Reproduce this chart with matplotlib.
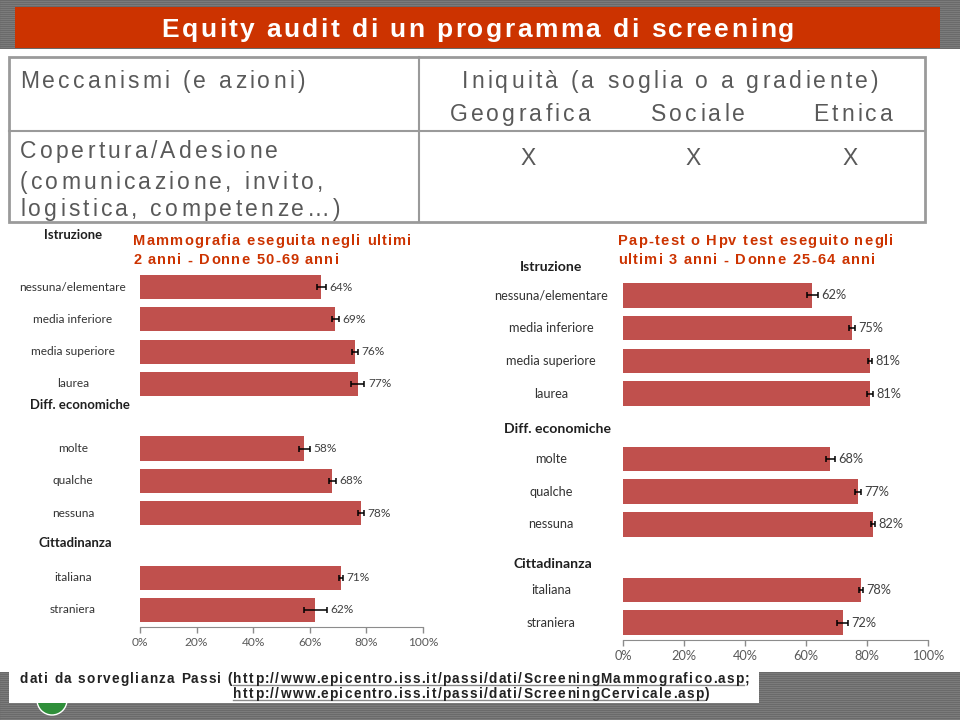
import matplotlib.pyplot as plt
import matplotlib.transforms as mtransforms
from matplotlib.patches import Rectangle, Ellipse
from matplotlib.lines import Line2D
from matplotlib.font_manager import FontProperties

# dati
categories = ['nessuna/elementare', 'media inferiore', 'media superiore', 'laurea',
              'molte', 'qualche', 'nessuna', 'italiana', 'straniera']
groups = ['Istruzione', 'Diff. economiche', 'Cittadinanza']

mammo_values = [64, 69, 76, 77, 58, 68, 78, 71, 62]
mammo_err = [1.6, 1.2, 1.0, 2.3, 1.9, 1.1, 1.0, 0.8, 4.2]
pap_values = [62, 75, 81, 81, 68, 77, 82, 78, 72]
pap_err = [1.8, 1.0, 0.7, 0.9, 1.4, 1.0, 0.7, 0.6, 1.8]

xticks = [0, 20, 40, 60, 80, 100]
xtick_labels = ['0%', '20%', '40%', '60%', '80%', '100%']

# slot of each category (gaps between groups)
slots = [0, 1, 2, 3, 5, 6, 7, 9, 10]

W, H = 960, 722
BAR = '#c0504d'
RED = '#cc3300'
GREY_TXT = '#595959'

fig = plt.figure(figsize=(W / 100, H / 100), dpi=100)
renderer = fig.canvas.get_renderer()


def fx(x):
    return x / W


def fy(y):
    return 1 - y / H


def prect(x0, y0, x1, y1, **kw):
    r = Rectangle((fx(x0), fy(y1)), fx(x1) - fx(x0), fy(y0) - fy(y1),
                  transform=fig.transFigure, **kw)
    fig.patches.append(r)
    return r


def hline(x0, x1, y, **kw):
    fig.add_artist(Line2D([fx(x0), fx(x1)], [fy(y)] * 2, transform=fig.transFigure, **kw))


def tracked(x, y, s, track, size, weight='normal', family='Liberation Sans',
            color='black', ha='left', zorder=3):
    """text with letter spacing; y is the vertical centre (cap height) in pixels"""
    prop = FontProperties(family=family, size=size, weight=weight)

    def width(t):
        return (renderer.get_text_width_height_descent(t + 'x', prop, ismath=False)[0]
                - renderer.get_text_width_height_descent('x', prop, ismath=False)[0])

    total = width(s) + track * (len(s) - 1)
    if ha == 'center':
        x -= total / 2
    base = y + 0.358 * size * 100 / 72
    for i, ch in enumerate(s):
        if ch == ' ':
            continue
        fig.text(fx(x + width(s[:i]) + i * track), fy(base), ch, fontproperties=prop,
                 color=color, ha='left', va='baseline', zorder=zorder)
    return x, x + total, base


def stripes(y0, y1):
    prect(0, y0, W, y1, facecolor='#6a6a6a', edgecolor='none', zorder=0)
    y = y0 + 1
    while y < y1:
        hline(0, W, y, color='#8a8a8a', lw=0.4, zorder=0.5)
        y += 2


# banner in alto
stripes(0, 49)
prect(15, 7, 940, 48, facecolor=RED, edgecolor='none', zorder=1)
tracked(478, 28, 'Equity audit di un programma di screening', 2.4, 19, weight='bold',
        color='white', ha='center')

# tabella
prect(9, 57, 925, 222, facecolor='white', edgecolor='#9a9a9a', lw=2, zorder=1)
fig.add_artist(Line2D([fx(419)] * 2, [fy(57), fy(222)], transform=fig.transFigure,
                      color='#9a9a9a', lw=1.5, zorder=2))
hline(9, 925, 131, color='#9a9a9a', lw=1.5, zorder=2)
TS, TT = 16.5, 3.2
tracked(20, 80, 'Meccanismi (e azioni)', TT, TS, color=GREY_TXT)
tracked(670, 80, 'Iniquità (a soglia o a gradiente)', TT, TS, color=GREY_TXT, ha='center')
for lab, cx in zip(['Geografica', 'Sociale', 'Etnica'], [520, 698, 853]):
    tracked(cx, 113, lab, TT, TS, color=GREY_TXT, ha='center')
for cx in [528, 693, 850]:
    tracked(cx, 157, 'X', TT, TS, color=GREY_TXT, ha='center')
tracked(20, 150, 'Copertura/Adesione', TT, TS, color=GREY_TXT)
tracked(20, 181, '(comunicazione, invito,', TT, TS, color=GREY_TXT)
tracked(20, 208, 'logistica, competenze…)', TT, TS, color=GREY_TXT)


def draw_chart(x0, y0, x1, y1, values, errs, subtitle, sub_x, label_cx, header_slots, fs):
    ax = fig.add_axes([fx(x0), fy(y1), fx(x1) - fx(x0), fy(y0) - fy(y1)])
    ax.patch.set_alpha(0)
    ax.barh(slots, values, height=0.75, color=BAR, xerr=errs,
            error_kw=dict(ecolor='black', elinewidth=1.1, capsize=2.5, capthick=1.1))
    ax.set_xlim(0, 100)
    ax.set_ylim(10.53, -0.53)
    ax.set_xticks(xticks)
    ax.set_xticklabels(xtick_labels, family='Lato')
    ax.tick_params(axis='x', direction='out', length=4, width=1, color='#8c8c8c',
                   labelcolor='#595959', labelsize=fs, pad=3)
    ax.tick_params(axis='y', left=False, labelleft=False)
    for s in ['top', 'right', 'left']:
        ax.spines[s].set_visible(False)
    ax.spines['bottom'].set_color('#8c8c8c')

    for v, e, s in zip(values, errs, slots):
        ax.annotate(f'{v}%', (v + e, s), xytext=(2.5, 0), textcoords='offset points',
                    ha='left', va='center', fontsize=fs, color='#404040', family='Lato')

    trans = mtransforms.blended_transform_factory(fig.transFigure, ax.transData)
    for lab, s in zip(categories, slots):
        ax.text(fx(label_cx), s, lab, transform=trans, ha='center', va='center',
                fontsize=fs, color='#333333', family='Lato')
    for g, s, cx in zip(groups, header_slots, [label_cx, label_cx + 7, label_cx + 2]):
        ax.text(fx(cx), s, g, transform=trans, ha='center', va='center',
                fontsize=fs * 1.1, fontweight='bold', color='#1f1f1f', family='Lato')

    for k, line in enumerate(subtitle):
        tracked(sub_x, 240 + 19 * k, line, 1.2, 10.5, weight='bold', color=RED)
    return ax


draw_chart(140, 270, 423, 627, mammo_values, mammo_err,
           ['Mammografia eseguita negli ultimi', '2 anni - Donne 50-69 anni'], 133, 73,
           [-1.6, 3.65, 7.93], 8.6)
draw_chart(623, 278, 928, 640, pap_values, pap_err,
           ['Pap-test o Hpv test eseguito negli', 'ultimi 3 anni - Donne 25-64 anni'], 618, 551,
           [-0.86, 4.07, 8.2], 9.2)

# piè di pagina
stripes(672, 720)
fig.patches.append(Ellipse((fx(52), fy(700)), 30 / W, 30 / H, transform=fig.transFigure,
                           facecolor='#2f8f3a', edgecolor='white', lw=1, zorder=1))
prect(9, 663, 759, 703, facecolor='white', edgecolor='none', zorder=2)

FS, FT = 9.8, 1.3


def put_line(x, y, pieces):
    starts = []
    for txt, link in pieces:
        x0, x1, base = tracked(x, y, txt, FT, FS, weight='bold', color='#222222')
        starts.append(x0)
        if link:
            hline(x0, x1, base + 2, color='#8a8a8a', lw=1, zorder=3)
        x = x1 + FT
    return starts


s1 = put_line(20, 678, [('dati da sorveglianza Passi (', False),
                        ('http://www.epicentro.iss.it/passi/dati/ScreeningMammografico.asp', True),
                        (';', False)])
put_line(s1[1], 693, [('http://www.epicentro.iss.it/passi/dati/ScreeningCervicale.asp', True),
                      (')', False)])

fig.savefig('out.png', dpi=100)
